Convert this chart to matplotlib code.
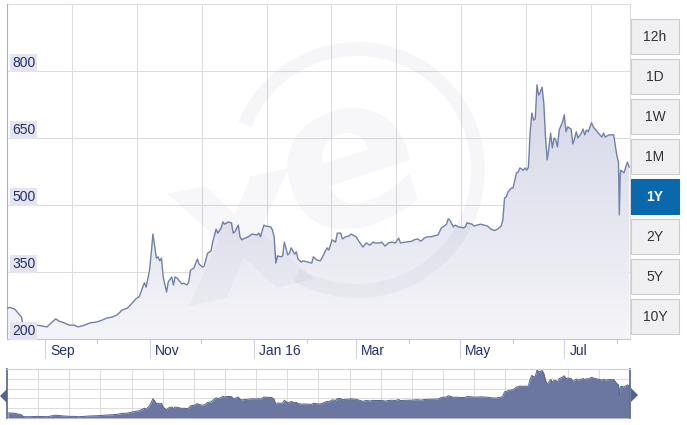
import matplotlib.pyplot as plt, numpy as np, pandas as pd
import matplotlib.dates as mdates
import matplotlib.transforms as mtrans
from matplotlib.colors import LinearSegmentedColormap
from matplotlib.patches import Rectangle, Arc, Polygon

plt.rcParams['font.family'] = ['Liberation Sans', 'DejaVu Sans']

# price series
dates = ["2015-08-10", "2015-08-11", "2015-08-14", "2015-08-16", "2015-08-18", "2015-08-19", "2015-08-20",
         "2015-08-23", "2015-08-27", "2015-08-30", "2015-09-02", "2015-09-03", "2015-09-05", "2015-09-07",
         "2015-09-09", "2015-09-12", "2015-09-15", "2015-09-18", "2015-09-20", "2015-09-24", "2015-09-27",
         "2015-10-01", "2015-10-04", "2015-10-07", "2015-10-10", "2015-10-13", "2015-10-16", "2015-10-19",
         "2015-10-22", "2015-10-24", "2015-10-26", "2015-10-28", "2015-10-29", "2015-10-30", "2015-11-01",
         "2015-11-02", "2015-11-03", "2015-11-05", "2015-11-06", "2015-11-07", "2015-11-08", "2015-11-09",
         "2015-11-11", "2015-11-12", "2015-11-14", "2015-11-15", "2015-11-16", "2015-11-17", "2015-11-20",
         "2015-11-21", "2015-11-23", "2015-11-24", "2015-11-25", "2015-11-27", "2015-11-29", "2015-11-30",
         "2015-12-02", "2015-12-03", "2015-12-05", "2015-12-07", "2015-12-08", "2015-12-10", "2015-12-11",
         "2015-12-13", "2015-12-14", "2015-12-15", "2015-12-17", "2015-12-19", "2015-12-20", "2015-12-21",
         "2015-12-23", "2015-12-24", "2015-12-25", "2015-12-27", "2015-12-29", "2015-12-31", "2016-01-03",
         "2016-01-04", "2016-01-05", "2016-01-07", "2016-01-08", "2016-01-11", "2016-01-12", "2016-01-13",
         "2016-01-14", "2016-01-15", "2016-01-17", "2016-01-18", "2016-01-19", "2016-01-21", "2016-01-22",
         "2016-01-23", "2016-01-25", "2016-01-26", "2016-01-27", "2016-01-29", "2016-01-30", "2016-02-02",
         "2016-02-04", "2016-02-05", "2016-02-07", "2016-02-09", "2016-02-10", "2016-02-12", "2016-02-13",
         "2016-02-14", "2016-02-16", "2016-02-18", "2016-02-19", "2016-02-21", "2016-02-22", "2016-02-24",
         "2016-02-26", "2016-02-27", "2016-03-01", "2016-03-03", "2016-03-05", "2016-03-07", "2016-03-09",
         "2016-03-11", "2016-03-12", "2016-03-15", "2016-03-16", "2016-03-18", "2016-03-20", "2016-03-22",
         "2016-03-24", "2016-03-26", "2016-03-27", "2016-03-30", "2016-04-03", "2016-04-04", "2016-04-06",
         "2016-04-08", "2016-04-10", "2016-04-12", "2016-04-14", "2016-04-16", "2016-04-18", "2016-04-20",
         "2016-04-21", "2016-04-23", "2016-04-24", "2016-04-25", "2016-04-27", "2016-04-28", "2016-04-30",
         "2016-05-03", "2016-05-04", "2016-05-05", "2016-05-08", "2016-05-09", "2016-05-11", "2016-05-13",
         "2016-05-15", "2016-05-17", "2016-05-19", "2016-05-21", "2016-05-23", "2016-05-25", "2016-05-26",
         "2016-05-27", "2016-05-28", "2016-05-29", "2016-05-31", "2016-06-01", "2016-06-03", "2016-06-04",
         "2016-06-05", "2016-06-07", "2016-06-08", "2016-06-09", "2016-06-10", "2016-06-11", "2016-06-12",
         "2016-06-13", "2016-06-14", "2016-06-15", "2016-06-16", "2016-06-17", "2016-06-18", "2016-06-19",
         "2016-06-20", "2016-06-21", "2016-06-22", "2016-06-23", "2016-06-24", "2016-06-25", "2016-06-26",
         "2016-06-27", "2016-06-28", "2016-06-30", "2016-07-01", "2016-07-02", "2016-07-03", "2016-07-05",
         "2016-07-06", "2016-07-07", "2016-07-08", "2016-07-09", "2016-07-11", "2016-07-12", "2016-07-13",
         "2016-07-14", "2016-07-15", "2016-07-17", "2016-07-18", "2016-07-19", "2016-07-21", "2016-07-23",
         "2016-07-24", "2016-07-25", "2016-07-27", "2016-07-29", "2016-07-30", "2016-07-31", "2016-08-01",
         "2016-08-01 18:00", "2016-08-02 06:00", "2016-08-02 18:00", "2016-08-03", "2016-08-05", "2016-08-06",
         "2016-08-07", "2016-08-08"]
prices = [269, 271, 267, 258, 249, 229, 227,
          227, 231, 229, 227, 231, 238, 245,
          240, 236, 231, 231, 227, 231, 236,
          238, 242, 247, 249, 254, 265, 269,
          281, 290, 295, 316, 326, 316, 354,
          392, 435, 381, 384, 375, 381, 339,
          305, 328, 339, 321, 339, 337, 323,
          325, 321, 328, 354, 359, 379, 368,
          361, 363, 392, 397, 417, 446, 437,
          449, 462, 457, 462, 460, 437, 440,
          455, 429, 422, 426, 429, 435, 433,
          437, 429, 455, 453, 451, 444, 429,
          370, 386, 384, 386, 417, 388, 392,
          404, 390, 395, 379, 372, 375, 372,
          370, 384, 377, 375, 381, 397, 404,
          399, 422, 417, 437, 437, 424, 429,
          431, 435, 429, 417, 406, 415, 410,
          417, 415, 415, 417, 408, 415, 417,
          415, 426, 415, 417, 419, 422, 424,
          419, 426, 429, 429, 431, 433, 449,
          451, 457, 469, 466, 451, 455, 451,
          449, 451, 460, 457, 453, 455, 457,
          455, 453, 446, 443, 446, 453, 466,
          516, 518, 529, 538, 538, 572, 574,
          583, 578, 583, 578, 585, 663, 706,
          690, 693, 769, 746, 753, 764, 728,
          652, 601, 628, 661, 628, 650, 646,
          630, 668, 686, 702, 664, 675, 670,
          637, 648, 664, 650, 661, 670, 657,
          668, 664, 684, 675, 670, 661, 652,
          661, 652, 657, 657, 657, 630, 607,
          596, 478, 563, 578, 572, 585,
          596, 585]

y_ticks = [200, 350, 500, 650, 800]
label_months = ["2015-09-01", "2015-11-01", "2016-01-01", "2016-03-01", "2016-05-01", "2016-07-01"]
month_labels = ["Sep", "Nov", "Jan 16", "Mar", "May", "Jul"]
minor_months = ["2015-10-01", "2015-12-01", "2016-02-01", "2016-04-01", "2016-06-01", "2016-08-01"]
buttons = ["12h", "1D", "1W", "1M", "1Y", "2Y", "5Y", "10Y"]
active = "1Y"

W, H = 687, 425
NAVY = "#22306e"
GRID = "#dddddd"

def box(x0, y0, x1, y1):
    return [x0 / W, 1 - y1 / H, (x1 - x0) / W, (y1 - y0) / H]

t = pd.to_datetime(dates, format="ISO8601")
v = np.array(prices, dtype=float)
x_lo, x_hi = pd.Timestamp("2015-08-09 12:00"), pd.Timestamp("2016-08-08 12:00")

fig = plt.figure(figsize=(W / 100, H / 100), dpi=100)
fig.patch.set_facecolor("white")

# ---- main chart
ax = fig.add_axes(box(7, 4, 630, 339))
ax.plot(t, v, color="#7280ad", lw=1.0, zorder=4)
xn = mdates.date2num(t)
poly = Polygon(np.column_stack([np.r_[xn[0], xn, xn[-1]], np.r_[200, v, 200]]), closed=True,
               fc="none", ec="none", transform=ax.transData)
ax.add_patch(poly)
cmap = LinearSegmentedColormap.from_list("g", ["#f5f5f9", "#d4d7e6"])
im = ax.imshow(np.linspace(0, 1, 256).reshape(-1, 1), cmap=cmap, aspect="auto", origin="lower",
               extent=[xn[0], xn[-1], 200, v.max()], zorder=2)
im.set_clip_path(poly)

ax.set_xlim(x_lo, x_hi)
ax.set_ylim(200, 950)
ax.set_yticks(y_ticks + [950])
ax.tick_params(axis="y", length=0, labelleft=False)
ax.yaxis.grid(True, color=GRID, lw=0.8, zorder=0)
ax.vlines(pd.date_range("2015-09-16 14:00", periods=9, freq="38D"), 200, 950, color=GRID, lw=0.8, zorder=0)
ax.set_xticks(pd.to_datetime(label_months))
ax.set_xticks(pd.to_datetime(minor_months), minor=True)
ax.tick_params(axis="x", which="major", length=14, width=0.8, color="#d3d6e2", labelbottom=False)
ax.tick_params(axis="x", which="minor", length=3, width=0.8, color="#c8cbdb")
ax.spines["top"].set_visible(False)
ax.spines["left"].set_color("#a9aed0")
ax.spines["bottom"].set_color("#c3c7da")
ax.spines["right"].set_color(GRID)
ax.spines["right"].set_linewidth(0.8)
ax.set_facecolor("white")

tx = mtrans.offset_copy(mtrans.blended_transform_factory(ax.transData, ax.transAxes), fig, x=5, y=0, units="dots")
for d, lab in zip(pd.to_datetime(label_months), month_labels):
    ax.text(d, -0.037, lab, transform=tx, ha="left", va="center", fontsize=10, color=NAVY, clip_on=False)
ty = mtrans.offset_copy(mtrans.blended_transform_factory(ax.transAxes, ax.transData), fig, x=5, y=1, units="dots")
for yv in y_ticks:
    ax.text(0, yv, str(yv), transform=ty, ha="left", va="bottom", fontsize=10, color=NAVY, zorder=6,
            bbox=dict(boxstyle="square,pad=0.15", fc="#e4e5f0", ec="none"))

# ---- navigator
nav = fig.add_axes(box(7, 369, 630, 418))
nav.fill_between(t, v, 212, color="#6b77a1", lw=0, zorder=2)
nav.plot(t, v, color="#56628d", lw=0.7, zorder=3)
nav.set_xlim(x_lo, x_hi)
nav.set_ylim(212, 780)
nav.set_yticks(np.linspace(212, 780, 6))
nav.set_xticks(pd.date_range("2015-08-27 18:00", periods=19, freq="438h"))
nav.grid(True, color=GRID, lw=0.8, zorder=0)
nav.tick_params(length=0, labelleft=False, labelbottom=False)
for s in nav.spines.values():
    s.set_visible(False)

# ---- overlay: watermark, buttons, handles
ov = fig.add_axes([0, 0, 1, 1], zorder=5)
ov.set_xlim(0, W)
ov.set_ylim(H, 0)
ov.axis("off")
wm = (0.1, 0.1, 0.35, 0.035)
ov.add_patch(Arc((357, 170), 242, 242, theta1=-158, theta2=120, lw=10, color=wm))
ov.text(349, 165, "e", fontsize=150, fontweight="bold", family="DejaVu Sans", color=wm,
        ha="center", va="center", rotation=18)
ov.text(240, 235, "x", fontsize=150, fontweight="bold", family="DejaVu Sans", color=wm,
        ha="center", va="center", rotation=12)

for i, b in enumerate(buttons):
    y0 = 19 + 40 * i
    on = b == active
    ov.add_patch(Rectangle((631, y0), 48, 35, fc="#0a68ad" if on else "#f0f0f3",
                           ec="#0a68ad" if on else "#cccccc", lw=0.8))
    ov.text(655, y0 + 18, b, ha="center", va="center", fontsize=10,
            color="white" if on else "#333333", fontweight="bold" if on else "normal")

ov.plot([7, 7], [369, 418], color="#56628d", lw=1.2)
ov.plot([630, 630], [369, 418], color="#56628d", lw=1.2)
ov.plot([7, 630], [369, 369], color="#d0d0d0", lw=0.8)
ov.add_patch(Polygon([(7, 389), (0, 396), (7, 403)], closed=True, fc="#56628d", ec="none"))
ov.add_patch(Polygon([(631, 388), (638, 395), (631, 402)], closed=True, fc="#56628d", ec="none"))

fig.savefig("out.png", dpi=100)
